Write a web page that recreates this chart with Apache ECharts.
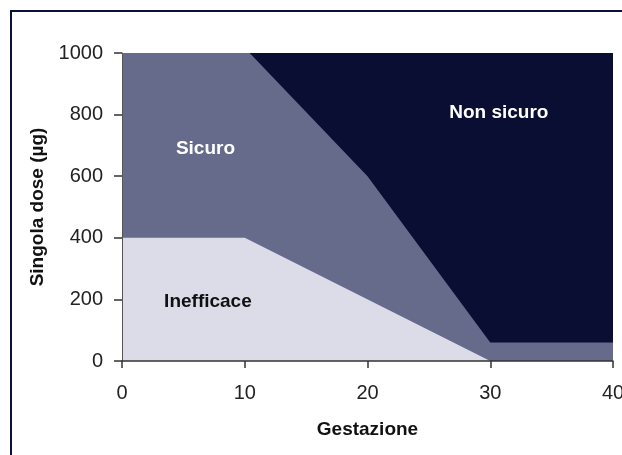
<!DOCTYPE html>
<html>
<head>
<meta charset="utf-8">
<script src="https://cdn.jsdelivr.net/npm/echarts@6/dist/echarts.min.js"></script>
<style>
  html, body { margin: 0; padding: 0; background: #fff; }
  #chart { width: 622px; height: 455px; }
</style>
</head>
<body>
<div id="chart"></div>
<script>
// region boundaries [gestazione, dose]
const nonSicuroTop = [[0, 1000], [40, 1000]];
const sicuroTop = [[0, 1000], [10.4, 1000], [20, 600], [30, 60], [40, 60]];
const inefficaceTop = [[0, 400], [10, 400], [30, 0], [40, 0]];

const regionLabels = ['Sicuro', 'Non sicuro', 'Inefficace'];
const labelPos = [[6.8, 690], [30.7, 807], [7.0, 193]];
const labelColors = ['#ffffff', '#ffffff', '#111111'];

const colors = {
  dark: '#090e32',
  mid: '#666b8c',
  light: '#dcdce8',
};

const font = '"Liberation Sans", Arial, sans-serif';

const chart = echarts.init(document.getElementById('chart'));

function areaSeries(name, data, color) {
  return {
    name: name,
    type: 'line',
    data: data,
    symbol: 'none',
    lineStyle: { width: 0 },
    areaStyle: { color: color, opacity: 1 },
    silent: true,
  };
}

const option = {
  animation: false,
  grid: { left: 122, right: 9, top: 53, bottom: 94, outerBoundsMode: 'none', containLabel: false },
  graphic: [
    {
      type: 'rect',
      shape: { x: 11, y: 11, width: 640, height: 470 },
      style: { fill: 'none', stroke: '#0b1036', lineWidth: 2 },
      z: 100,
    },
  ],
  xAxis: {
    type: 'value',
    min: 0,
    max: 40,
    interval: 10,
    name: 'Gestazione',
    nameLocation: 'middle',
    nameGap: 59,
    nameTextStyle: { fontFamily: font, fontSize: 19, fontWeight: 'bold', color: '#111' },
    axisLine: { show: true, lineStyle: { color: '#333', width: 1.5 } },
    axisTick: { show: true, length: 7, lineStyle: { color: '#333', width: 1.5 } },
    axisLabel: { fontFamily: font, fontSize: 20, color: '#222', margin: 22, hideOverlap: false },
    splitLine: { show: false },
    z: 10,
  },
  yAxis: {
    type: 'value',
    min: 0,
    max: 1000,
    interval: 200,
    name: 'Singola dose (µg)',
    nameLocation: 'middle',
    nameGap: 72,
    nameRotate: 90,
    nameTextStyle: { fontFamily: font, fontSize: 19, fontWeight: 'bold', color: '#111' },
    axisLine: { show: true, lineStyle: { color: '#555', width: 1 } },
    axisTick: { show: true, length: 8, lineStyle: { color: '#333', width: 1.5 } },
    axisLabel: {
      fontFamily: font,
      fontSize: 20,
      color: '#222',
      margin: 19,
      formatter: (v) => String(v),
    },
    splitLine: { show: false },
    z: 10,
  },
  series: [
    areaSeries('Non sicuro', nonSicuroTop, colors.dark),
    areaSeries('Sicuro', sicuroTop, colors.mid),
    areaSeries('Inefficace', inefficaceTop, colors.light),
    {
      type: 'scatter',
      symbolSize: 0,
      silent: true,
      z: 20,
      itemStyle: { opacity: 1 },
      data: labelPos.map((p, i) => ({
        value: p,
        label: {
          show: true,
          position: 'inside',
          formatter: regionLabels[i],
          color: labelColors[i],
          opacity: 1,
          textBorderWidth: 0,
          fontFamily: font,
          fontSize: 19,
          fontWeight: 'bold',
        },
      })),
    },
  ],
};

chart.setOption(option);
</script>
</body>
</html>
